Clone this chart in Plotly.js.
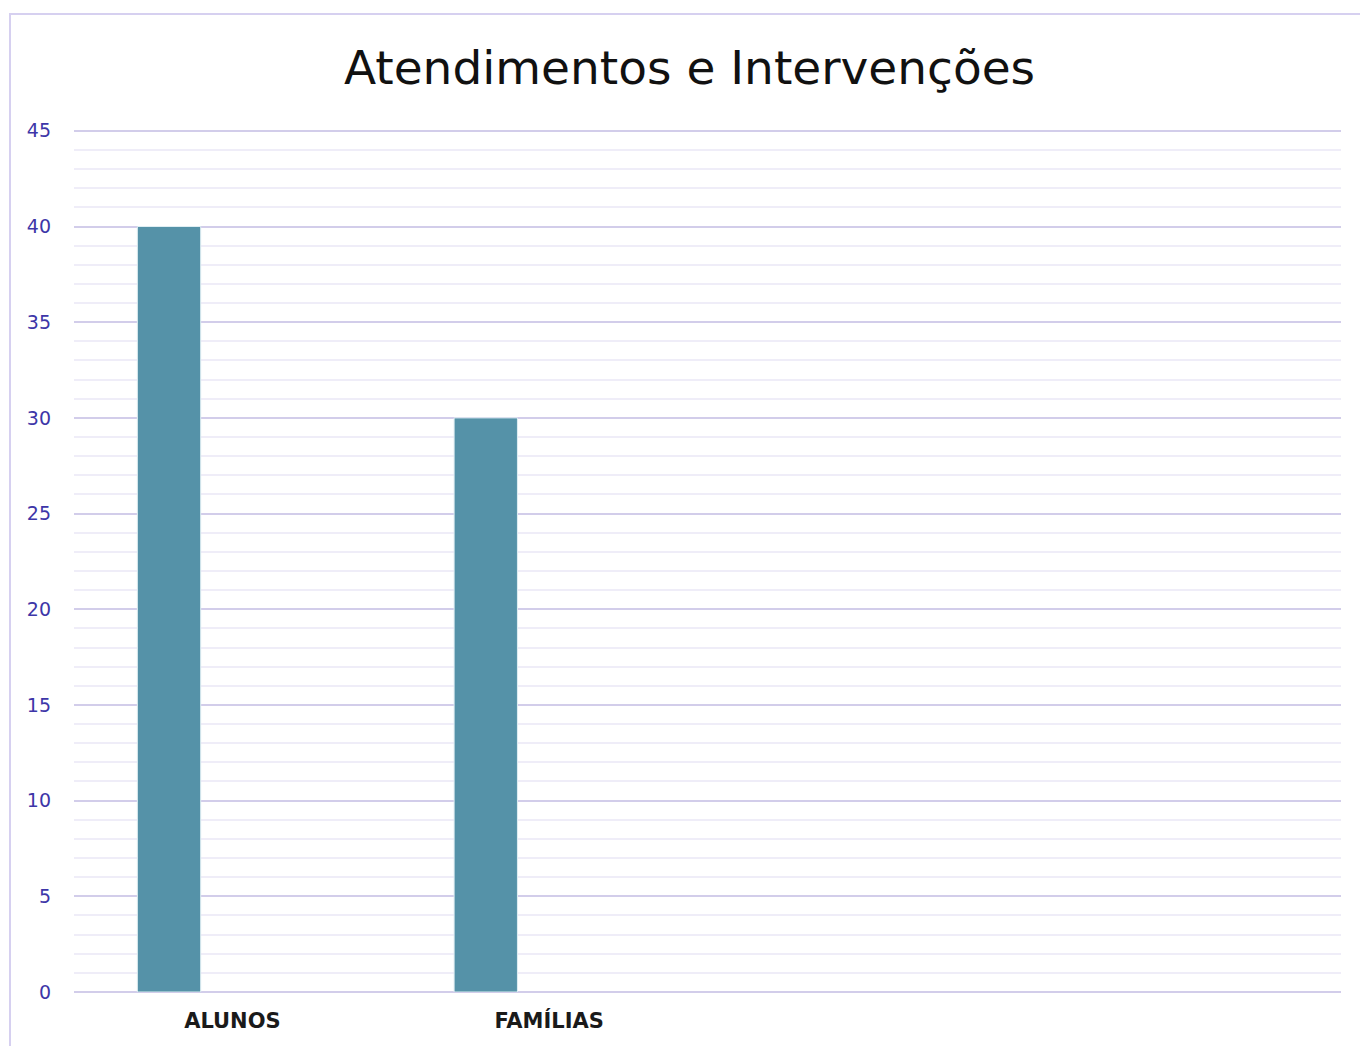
<!DOCTYPE html>
<html>
<head>
<meta charset="utf-8">
<script src="https://cdn.plot.ly/plotly-3.0.1.min.js"></script>
<style>
html, body { margin: 0; padding: 0; background: #ffffff; overflow: hidden; }
#chart { width: 1360px; height: 1046px; }
#frame { position: absolute; left: 9px; top: 13px; width: 1400px; height: 1100px;
         border: 2px solid #d6d0f0; box-sizing: border-box; pointer-events: none; }
</style>
</head>
<body>
<div id="chart"></div>
<div id="frame"></div>
<script>
const categories = ["ALUNOS", "FAMÍLIAS", "", " "];
const values = [40, 30, null, null];
const yTicks = [0, 5, 10, 15, 20, 25, 30, 35, 40, 45];

const positions = categories.map((c, i) => i);

const trace = {
  type: "bar",
  x: positions,
  y: values,
  width: 0.2,
  offset: -0.3,
  marker: { color: "#5592a8", line: { color: "#dfeef3", width: 1 } },
  hoverinfo: "x+y",
  showlegend: false
};

const layout = {
  width: 1360,
  height: 1046,
  margin: { l: 74, r: 19, t: 127, b: 54 },
  paper_bgcolor: "#ffffff",
  plot_bgcolor: "#ffffff",
  title: {
    text: "Atendimentos e Intervenções",
    font: { family: "DejaVu Sans", size: 47, color: "#111111" },
    x: 0.507, xanchor: "center", y: 0.935, yanchor: "middle"
  },
  xaxis: {
    range: [-0.5, 3.5],
    tickvals: positions,
    ticktext: categories,
    tickfont: { family: "DejaVu Sans", size: 21, color: "#1a1a1a", weight: "bold" },
    showgrid: false,
    zeroline: false,
    showline: false,
    ticks: "",
    ticklen: 0,
    ticklabelstandoff: 14
  },
  yaxis: {
    range: [0, 45.2],
    tickvals: yTicks,
    tickfont: { family: "DejaVu Sans", size: 19, color: "#3d36a8" },
    gridcolor: "#d2cdea",
    gridwidth: 2,
    zeroline: true,
    zerolinecolor: "#d2cdea",
    zerolinewidth: 2,
    showline: false,
    ticks: "",
    ticklabelstandoff: 22,
    minor: { dtick: 1, showgrid: true, gridcolor: "#efedf8", gridwidth: 2 }
  },
  font: { family: "DejaVu Sans" }
};

Plotly.newPlot("chart", [trace], layout, { displayModeBar: false, staticPlot: true });
</script>
</body>
</html>
